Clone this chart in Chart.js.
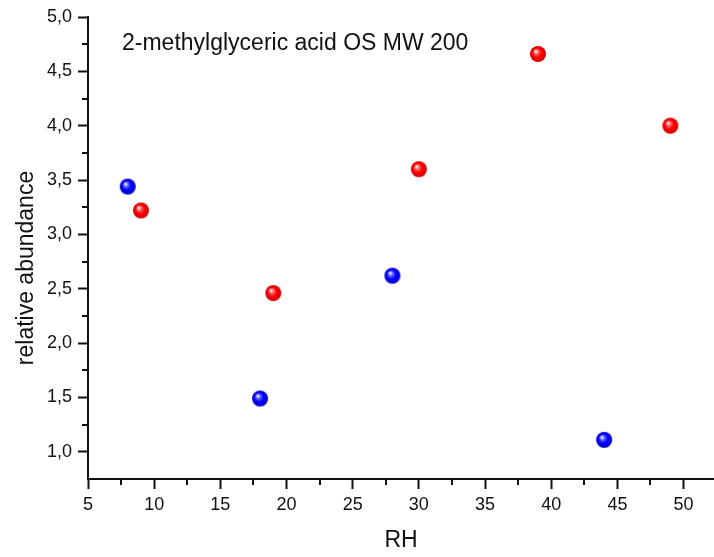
<!DOCTYPE html>
<html>
<head>
<meta charset="utf-8">
<title>2-methylglyceric acid OS MW 200</title>
<script src="https://cdn.jsdelivr.net/npm/chart.js@4.4.1/dist/chart.umd.min.js"></script>
<style>
  html, body { margin: 0; padding: 0; background: #ffffff; }
  #wrap { width: 714px; height: 557px; }
</style>
</head>
<body>
<div id="wrap"><canvas id="chart" width="714" height="557"></canvas></div>
<script>
// Measurements: relative abundance vs. relative humidity (RH)
const blueRH = [8, 18, 28, 44];
const blueAbundance = [3.44, 1.49, 2.62, 1.11];
const redRH = [9, 19, 30, 39, 49];
const redAbundance = [3.22, 2.46, 3.60, 4.66, 4.00];

// Axis tick positions
const xTicks = [5, 10, 15, 20, 25, 30, 35, 40, 45, 50];
const xMinorTicks = [7.5, 12.5, 17.5, 22.5, 27.5, 32.5, 37.5, 42.5, 47.5];
const yTicks = [1.0, 1.5, 2.0, 2.5, 3.0, 3.5, 4.0, 4.5, 5.0];
const yMinorTicks = [1.25, 1.75, 2.25, 2.75, 3.25, 3.75, 4.25, 4.75];

const chartTitle = '2-methylglyceric acid OS MW 200';
const xTitle = 'RH';
const yTitle = 'relative abundance';

const FONT = '"Liberation Sans", Arial, Helvetica, sans-serif';
const INK = '#111111';

// Shaded sphere used as the marker image
function sphere(light, main, edge, r) {
  const size = r * 2 + 2;
  const c = document.createElement('canvas');
  c.width = size; c.height = size;
  const g = c.getContext('2d');
  const cx = size / 2, cy = size / 2;
  const grad = g.createRadialGradient(cx - r * 0.3, cy - r * 0.35, r * 0.05, cx, cy, r);
  grad.addColorStop(0, '#ffffff');
  grad.addColorStop(0.22, light);
  grad.addColorStop(0.55, main);
  grad.addColorStop(1, edge);
  g.fillStyle = grad;
  g.beginPath();
  g.arc(cx, cy, r, 0, Math.PI * 2);
  g.fill();
  return c;
}
const blueBall = sphere('#7070ff', '#0000ff', '#0000c8', 8);
const redBall = sphere('#ff7070', '#ff0000', '#d00000', 8);

const toPoints = (xs, ys) => xs.map((x, i) => ({ x: x, y: ys[i] }));

// Minor ticks, axis titles and the in-plot caption
const decorations = {
  id: 'decorations',
  afterDraw(chart) {
    const { ctx, chartArea, scales } = chart;
    ctx.save();
    ctx.strokeStyle = INK;
    ctx.lineWidth = 2;
    ctx.beginPath();
    xMinorTicks.forEach(v => {
      const px = Math.round(scales.x.getPixelForValue(v));
      ctx.moveTo(px, chartArea.bottom);
      ctx.lineTo(px, chartArea.bottom + 6);
    });
    yMinorTicks.forEach(v => {
      const py = Math.round(scales.y.getPixelForValue(v));
      ctx.moveTo(chartArea.left - 6, py);
      ctx.lineTo(chartArea.left, py);
    });
    ctx.stroke();

    ctx.fillStyle = INK;
    ctx.font = '23px ' + FONT;
    ctx.textBaseline = 'alphabetic';

    ctx.textAlign = 'left';
    ctx.fillText(chartTitle, 122, 50);

    ctx.textAlign = 'center';
    ctx.fillText(xTitle, (chartArea.left + chartArea.right) / 2, 547);

    ctx.translate(33, 268);
    ctx.rotate(-Math.PI / 2);
    ctx.fillText(yTitle, 0, 0);
    ctx.restore();
  }
};

new Chart(document.getElementById('chart'), {
  type: 'scatter',
  data: {
    datasets: [
      {
        data: toPoints(blueRH, blueAbundance),
        pointStyle: blueBall,
        pointRadius: 8,
        clip: false
      },
      {
        data: toPoints(redRH, redAbundance),
        pointStyle: redBall,
        pointRadius: 8,
        clip: false
      }
    ]
  },
  options: {
    responsive: false,
    animation: false,
    layout: { autoPadding: false, padding: { top: 17, right: 0, left: 0, bottom: 0 } },
    plugins: {
      legend: { display: false },
      tooltip: { enabled: false },
      title: { display: false }
    },
    scales: {
      x: {
        type: 'linear',
        min: 5,
        max: 52.3,
        afterBuildTicks(scale) { scale.ticks = xTicks.map(v => ({ value: v })); },
        afterFit(scale) { scale.height = 78; },
        ticks: {
          color: INK,
          font: { family: FONT, size: 18 },
          padding: 5,
          maxRotation: 0,
          autoSkip: false,
          callback: v => String(v)
        },
        grid: {
          drawOnChartArea: false,
          drawTicks: true,
          tickLength: 10,
          tickWidth: 2,
          tickColor: INK
        },
        border: { display: true, color: INK, width: 2 }
      },
      y: {
        type: 'linear',
        min: 0.75,
        max: 5.0,
        afterBuildTicks(scale) { scale.ticks = yTicks.map(v => ({ value: v })); },
        afterFit(scale) { scale.width = 88; },
        ticks: {
          color: INK,
          font: { family: FONT, size: 18 },
          padding: 6,
          autoSkip: false,
          callback: v => Number(v).toFixed(1).replace('.', ',')
        },
        grid: {
          drawOnChartArea: false,
          drawTicks: true,
          tickLength: 10,
          tickWidth: 2,
          tickColor: INK
        },
        border: { display: true, color: INK, width: 2 }
      }
    }
  },
  plugins: [decorations]
});
</script>
</body>
</html>
